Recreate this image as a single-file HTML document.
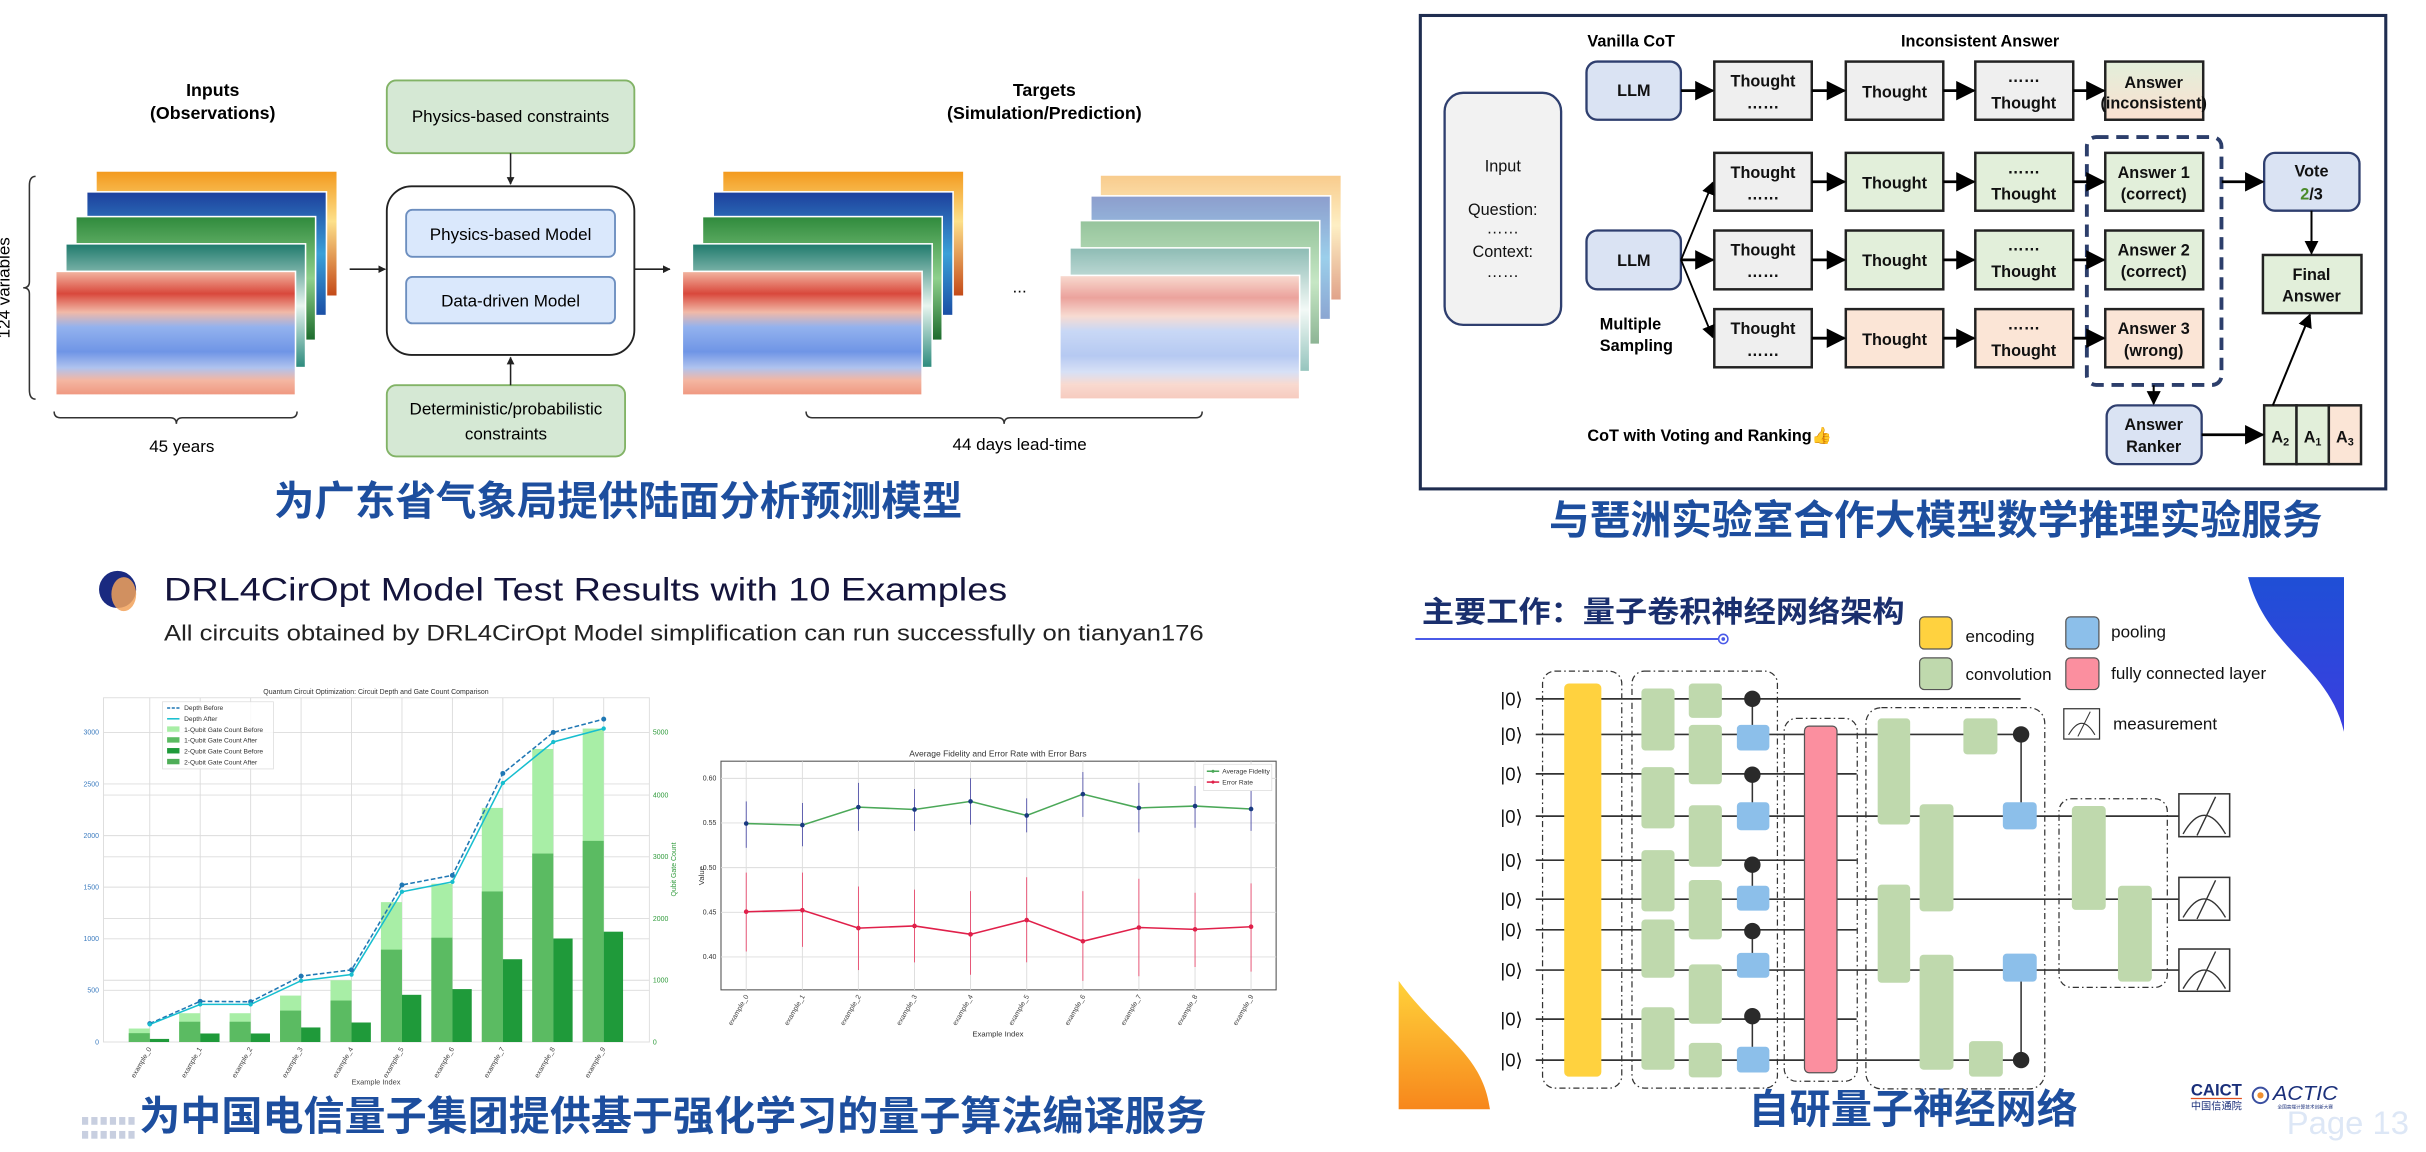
<!DOCTYPE html>
<html><head><meta charset="utf-8"><style>
html,body{margin:0;padding:0;background:#fff;}
svg{display:block;}
text{font-family:"Liberation Sans","Noto Sans CJK SC",sans-serif;}
.cn{font-family:"Liberation Sans","Noto Sans CJK SC",sans-serif;font-weight:bold;fill:#1d4e9e;}
.bx{font-size:10.5px;fill:#111;text-anchor:middle;}
</style></head><body>
<svg width="2426" height="1152" viewBox="0 0 1568 744.6" preserveAspectRatio="none" xmlns="http://www.w3.org/2000/svg">
<defs>
<marker id="ah" viewBox="0 0 10 10" refX="9" refY="5" markerWidth="7" markerHeight="7" orient="auto"><path d="M0,0L10,5L0,10Z" fill="#000"/></marker>
<marker id="as" viewBox="0 0 10 10" refX="9" refY="5" markerWidth="5" markerHeight="5" orient="auto"><path d="M0,0L10,5L0,10Z" fill="#222"/></marker>
<linearGradient id="gRed" x1="0" y1="0" x2="0" y2="1"><stop offset="0" stop-color="#f3b7a2"/><stop offset="0.18" stop-color="#d9483c"/><stop offset="0.33" stop-color="#f1b9a7"/><stop offset="0.45" stop-color="#93b2ee"/><stop offset="0.65" stop-color="#6f95e6"/><stop offset="0.78" stop-color="#b0c3ee"/><stop offset="0.88" stop-color="#f4b6a2"/><stop offset="1" stop-color="#ef977f"/></linearGradient>
<linearGradient id="gOr" x1="0" y1="0" x2="0" y2="1"><stop offset="0" stop-color="#f39a1e"/><stop offset="0.4" stop-color="#fde08a"/><stop offset="1" stop-color="#c44a18"/></linearGradient>
<linearGradient id="gBl" x1="0" y1="0" x2="0" y2="1"><stop offset="0" stop-color="#1d3f9c"/><stop offset="0.5" stop-color="#3aa0d8"/><stop offset="1" stop-color="#1a4ea5"/></linearGradient>
<linearGradient id="gGr" x1="0" y1="0" x2="0" y2="1"><stop offset="0" stop-color="#2f8a3c"/><stop offset="0.5" stop-color="#8fd08c"/><stop offset="1" stop-color="#1c6b2c"/></linearGradient>
<linearGradient id="gTe" x1="0" y1="0" x2="0" y2="1"><stop offset="0" stop-color="#1e7a6c"/><stop offset="0.5" stop-color="#e8f5ef"/><stop offset="1" stop-color="#2b8a7c"/></linearGradient>
<linearGradient id="gAns" x1="0" y1="0" x2="0" y2="1"><stop offset="0" stop-color="#e2efda"/><stop offset="1" stop-color="#fbe0d0"/></linearGradient>
<linearGradient id="gBlueDec" x1="0" y1="0" x2="0" y2="1"><stop offset="0" stop-color="#1f4fd6"/><stop offset="1" stop-color="#3b3ee0"/></linearGradient>
<linearGradient id="gOrDec" x1="0" y1="0" x2="0" y2="1"><stop offset="0" stop-color="#ffd23a"/><stop offset="1" stop-color="#f7871c"/></linearGradient>
<g id="stackIn">
<rect x="26.5" y="-64.4" width="155" height="80" fill="url(#gOr)"/>
<rect x="20" y="-51.4" width="155" height="80" fill="url(#gBl)" stroke="#fff" stroke-width="1"/>
<rect x="13" y="-35.4" width="155" height="80" fill="url(#gGr)" stroke="#fff" stroke-width="1"/>
<rect x="6.5" y="-17.8" width="155" height="80" fill="url(#gTe)" stroke="#fff" stroke-width="1"/>
<rect x="0" y="0" width="155" height="80" fill="url(#gRed)" stroke="#fff" stroke-width="1"/>
</g>
</defs>

<!-- ===== TOP LEFT ===== -->
<text x="137.5" y="62" font-size="11.5" font-weight="bold" text-anchor="middle">Inputs</text>
<text x="137.5" y="77" font-size="11.5" font-weight="bold" text-anchor="middle">(Observations)</text>
<text x="675" y="62" font-size="11.5" font-weight="bold" text-anchor="middle">Targets</text>
<text x="675" y="77" font-size="11.5" font-weight="bold" text-anchor="middle">(Simulation/Prediction)</text>
<path d="M23,114 Q19,114 19,120 L19,182 Q19,186 15,186 Q19,186 19,190 L19,252 Q19,258 23,258" fill="none" stroke="#333" stroke-width="1"/>
<text transform="translate(6,186) rotate(-90)" font-size="11" text-anchor="middle">124 variables</text>
<use href="#stackIn" x="36" y="175.4"/>
<use href="#stackIn" x="441" y="175.4"/>
<g opacity="0.5"><use href="#stackIn" x="685" y="178"/></g>
<text x="659" y="189" font-size="11" text-anchor="middle">...</text>
<rect x="250" y="52" width="160" height="47" rx="6" fill="#d5e8d4" stroke="#82b366" stroke-width="1.2"/>
<text x="330" y="79" font-size="11" text-anchor="middle">Physics-based constraints</text>
<rect x="250" y="120.4" width="160" height="109" rx="16" fill="#fff" stroke="#222" stroke-width="1.2"/>
<rect x="262.5" y="135.6" width="135" height="30.4" rx="4" fill="#dae8fc" stroke="#6c8ebf" stroke-width="1.2"/>
<text x="330" y="155" font-size="11" text-anchor="middle">Physics-based Model</text>
<rect x="262.5" y="179" width="135" height="30" rx="4" fill="#dae8fc" stroke="#6c8ebf" stroke-width="1.2"/>
<text x="330" y="198" font-size="11" text-anchor="middle">Data-driven Model</text>
<rect x="250" y="249" width="154" height="46" rx="6" fill="#d5e8d4" stroke="#82b366" stroke-width="1.2"/>
<text x="327" y="268" font-size="11" text-anchor="middle">Deterministic/probabilistic</text>
<text x="327" y="284" font-size="11" text-anchor="middle">constraints</text>
<line x1="330" y1="99" x2="330" y2="119" stroke="#222" stroke-width="1" marker-end="url(#as)"/>
<line x1="330" y1="249" x2="330" y2="231" stroke="#222" stroke-width="1" marker-end="url(#as)"/>
<line x1="226" y1="174" x2="249" y2="174" stroke="#222" stroke-width="1" marker-end="url(#as)"/>
<line x1="410" y1="174" x2="433" y2="174" stroke="#222" stroke-width="1" marker-end="url(#as)"/>
<path d="M35,266 Q35,270 39,270 L110,270 Q114,270 114,274 Q114,270 118,270 L188,270 Q192,270 192,266" fill="none" stroke="#333" stroke-width="1"/>
<text x="117.5" y="292" font-size="11" text-anchor="middle">45 years</text>
<path d="M521,266 Q521,270 525,270 L645,270 Q649,270 649,274 Q649,270 653,270 L773,270 Q777,270 777,266" fill="none" stroke="#333" stroke-width="1"/>
<text x="659" y="291" font-size="11" text-anchor="middle">44 days lead-time</text>
<text x="399.5" y="333" class="cn" font-size="26" text-anchor="middle" textLength="445" lengthAdjust="spacingAndGlyphs">为广东省气象局提供陆面分析预测模型</text>

<!-- ===== TOP RIGHT ===== -->
<rect x="918" y="10" width="624" height="306" fill="#fff" stroke="#1f2d50" stroke-width="2"/>
<text x="1026" y="30" font-size="10.5" font-weight="bold">Vanilla CoT</text>
<text x="1228.7" y="30" font-size="10.5" font-weight="bold">Inconsistent Answer</text>
<rect x="933.7" y="60" width="75.3" height="150" rx="12" fill="#f2f2f2" stroke="#2f3f6f" stroke-width="1.5"/>
<text x="971.3" y="111" class="bx">Input</text>
<text x="971.3" y="139" class="bx">Question:</text>
<text x="971.3" y="151" class="bx">……</text>
<text x="971.3" y="166" class="bx">Context:</text>
<text x="971.3" y="179" class="bx">……</text>
<g stroke="#2f3f6f" stroke-width="1.5" fill="#dae3f3">
<rect x="1025.4" y="39.8" width="61" height="37.6" rx="7"/>
<rect x="1025.4" y="149" width="61" height="38" rx="7"/>
<rect x="1463.4" y="98.8" width="61.6" height="37.4" rx="7"/>
<rect x="1361.6" y="262" width="61.4" height="38" rx="7"/>
</g>
<text x="1056" y="62" class="bx" font-weight="bold">LLM</text>
<text x="1056" y="172" class="bx" font-weight="bold">LLM</text>
<text x="1494" y="114" class="bx" font-weight="bold">Vote</text>
<text x="1494" y="129" class="bx" font-weight="bold"><tspan fill="#4a8a2a">2</tspan>/3</text>
<text x="1392" y="278" class="bx" font-weight="bold">Answer</text>
<text x="1392" y="292" class="bx" font-weight="bold">Ranker</text>
<g stroke="#222" stroke-width="1.6">
<rect x="1108" y="39.8" width="63" height="37.6" fill="#efefef"/>
<rect x="1193" y="39.8" width="63" height="37.6" fill="#efefef"/>
<rect x="1276.7" y="39.8" width="63.3" height="37.6" fill="#efefef"/>
<rect x="1360.7" y="39.8" width="63.3" height="37.6" fill="url(#gAns)"/>
<rect x="1108" y="98.8" width="63" height="37.4" fill="#efefef"/>
<rect x="1193" y="98.8" width="63" height="37.4" fill="#e2efda"/>
<rect x="1276.7" y="98.8" width="63.3" height="37.4" fill="#e2efda"/>
<rect x="1360.7" y="98.8" width="63.3" height="37.4" fill="#e2efda"/>
<rect x="1108" y="149" width="63" height="38" fill="#efefef"/>
<rect x="1193" y="149" width="63" height="38" fill="#e2efda"/>
<rect x="1276.7" y="149" width="63.3" height="38" fill="#e2efda"/>
<rect x="1360.7" y="149" width="63.3" height="38" fill="#e2efda"/>
<rect x="1108" y="199.8" width="63" height="37.6" fill="#efefef"/>
<rect x="1193" y="199.8" width="63" height="37.6" fill="#fbe5d6"/>
<rect x="1276.7" y="199.8" width="63.3" height="37.6" fill="#fbe5d6"/>
<rect x="1360.7" y="199.8" width="63.3" height="37.6" fill="#fbe5d6"/>
<rect x="1462.6" y="164.8" width="63.7" height="37.6" fill="#e2efda"/>
<rect x="1463.4" y="262" width="20.9" height="38" fill="#e2efda"/>
<rect x="1484.3" y="262" width="20.9" height="38" fill="#e2efda"/>
<rect x="1505.2" y="262" width="20.8" height="38" fill="#fbe5d6"/>
</g>
<g font-weight="bold">
<text x="1139.5" y="56" class="bx">Thought</text><text x="1139.5" y="70" class="bx">……</text>
<text x="1224.5" y="63" class="bx">Thought</text>
<text x="1308" y="53" class="bx">……</text><text x="1308" y="70" class="bx">Thought</text>
<text x="1392" y="57" class="bx">Answer</text><text x="1392" y="70" class="bx" font-size="9">(inconsistent)</text>
<text x="1139.5" y="115" class="bx">Thought</text><text x="1139.5" y="129" class="bx">……</text>
<text x="1224.5" y="122" class="bx">Thought</text>
<text x="1308" y="112" class="bx">……</text><text x="1308" y="129" class="bx">Thought</text>
<text x="1392" y="115" class="bx">Answer 1</text><text x="1392" y="129" class="bx">(correct)</text>
<text x="1139.5" y="165" class="bx">Thought</text><text x="1139.5" y="179" class="bx">……</text>
<text x="1224.5" y="172" class="bx">Thought</text>
<text x="1308" y="162" class="bx">……</text><text x="1308" y="179" class="bx">Thought</text>
<text x="1392" y="165" class="bx">Answer 2</text><text x="1392" y="179" class="bx">(correct)</text>
<text x="1139.5" y="216" class="bx">Thought</text><text x="1139.5" y="230" class="bx">……</text>
<text x="1224.5" y="223" class="bx">Thought</text>
<text x="1308" y="213" class="bx">……</text><text x="1308" y="230" class="bx">Thought</text>
<text x="1392" y="216" class="bx">Answer 3</text><text x="1392" y="230" class="bx">(wrong)</text>
<text x="1494" y="181" class="bx">Final</text><text x="1494" y="195" class="bx">Answer</text>
<text x="1473.8" y="286" class="bx">A<tspan font-size="7" dy="2">2</tspan></text>
<text x="1494.7" y="286" class="bx">A<tspan font-size="7" dy="2">1</tspan></text>
<text x="1515.6" y="286" class="bx">A<tspan font-size="7" dy="2">3</tspan></text>
<text x="1034" y="213" font-size="10.5">Multiple</text>
<text x="1034" y="227" font-size="10.5">Sampling</text>
<text x="1026" y="285" font-size="10.5">CoT with Voting and Ranking<tspan fill="#f0a020">👍</tspan></text>
</g>
<rect x="1348.8" y="88.6" width="87" height="160.2" rx="6" fill="none" stroke="#2c3e6b" stroke-width="2.5" stroke-dasharray="8,5"/>
<g stroke="#000" stroke-width="1.8" marker-end="url(#ah)">
<line x1="1086.5" y1="58.6" x2="1107" y2="58.6"/>
<line x1="1171" y1="58.6" x2="1192" y2="58.6"/>
<line x1="1256" y1="58.6" x2="1275.7" y2="58.6"/>
<line x1="1340" y1="58.6" x2="1359.7" y2="58.6"/>
<line x1="1086.5" y1="168" x2="1107" y2="118" stroke-width="1.2"/>
<line x1="1086.5" y1="168" x2="1107" y2="168"/>
<line x1="1086.5" y1="168" x2="1107" y2="218" stroke-width="1.2"/>
<line x1="1171" y1="117.5" x2="1192" y2="117.5"/>
<line x1="1256" y1="117.5" x2="1275.7" y2="117.5"/>
<line x1="1340" y1="117.5" x2="1359.7" y2="117.5"/>
<line x1="1171" y1="168" x2="1192" y2="168"/>
<line x1="1256" y1="168" x2="1275.7" y2="168"/>
<line x1="1340" y1="168" x2="1359.7" y2="168"/>
<line x1="1171" y1="218.6" x2="1192" y2="218.6"/>
<line x1="1256" y1="218.6" x2="1275.7" y2="218.6"/>
<line x1="1340" y1="218.6" x2="1359.7" y2="218.6"/>
<line x1="1436" y1="117.5" x2="1462.4" y2="117.5"/>
<line x1="1494" y1="136.2" x2="1494" y2="163.8" stroke-width="1.3"/>
<line x1="1469" y1="262" x2="1493" y2="203.4" stroke-width="1.3"/>
<line x1="1392" y1="249" x2="1392" y2="261" stroke-width="1.3"/>
<line x1="1423" y1="281" x2="1462.4" y2="281"/>
</g>
<text x="1251.2" y="345" class="cn" font-size="26" text-anchor="middle" textLength="500" lengthAdjust="spacingAndGlyphs">与琶洲实验室合作大模型数学推理实验服务</text>

<!-- ===== BOTTOM LEFT ===== -->
<circle cx="76" cy="381" r="12" fill="#1a2a80"/>
<ellipse cx="80" cy="384" rx="8" ry="11" fill="#f2a25a" opacity="0.85"/>
<text x="106" y="388" font-size="21" fill="#14143c" textLength="545" lengthAdjust="spacingAndGlyphs">DRL4CirOpt Model Test Results with 10 Examples</text>
<text x="106" y="414" font-size="14.5" fill="#222" textLength="672" lengthAdjust="spacingAndGlyphs">All circuits obtained by DRL4CirOpt Model simplification can run successfully on tianyan176</text>
<!-- chart 1 -->
<text x="243" y="448.5" font-size="4.5" text-anchor="middle" fill="#333">Quantum Circuit Optimization: Circuit Depth and Gate Count Comparison</text>
<rect x="66.9" y="451" width="352.8" height="222.5" fill="#fff" stroke="#ddd" stroke-width="0.6"/>
<g stroke="#dcdcdc" stroke-width="0.6">
<line x1="66.9" y1="640.1" x2="419.7" y2="640.1"/><line x1="66.9" y1="606.8" x2="419.7" y2="606.8"/><line x1="66.9" y1="573.4" x2="419.7" y2="573.4"/><line x1="66.9" y1="540.1" x2="419.7" y2="540.1"/><line x1="66.9" y1="506.7" x2="419.7" y2="506.7"/><line x1="66.9" y1="473.4" x2="419.7" y2="473.4"/>
<line x1="66.9" y1="633.6" x2="419.7" y2="633.6"/><line x1="66.9" y1="593.7" x2="419.7" y2="593.7"/><line x1="66.9" y1="553.8" x2="419.7" y2="553.8"/><line x1="66.9" y1="513.9" x2="419.7" y2="513.9"/>
<line x1="96.8" y1="451" x2="96.8" y2="673.5"/><line x1="129.4" y1="451" x2="129.4" y2="673.5"/><line x1="162" y1="451" x2="162" y2="673.5"/><line x1="194.6" y1="451" x2="194.6" y2="673.5"/><line x1="227.2" y1="451" x2="227.2" y2="673.5"/><line x1="259.8" y1="451" x2="259.8" y2="673.5"/><line x1="292.4" y1="451" x2="292.4" y2="673.5"/><line x1="325" y1="451" x2="325" y2="673.5"/><line x1="357.6" y1="451" x2="357.6" y2="673.5"/><line x1="390.2" y1="451" x2="390.2" y2="673.5"/>
</g>
<g fill="#a8eea6">
<rect x="83.2" y="664.8" width="13.6" height="8.7"/><rect x="115.8" y="654.9" width="13.6" height="18.6"/><rect x="148.4" y="654.9" width="13.6" height="18.6"/><rect x="181" y="643.5" width="13.6" height="30"/><rect x="213.6" y="633.6" width="13.6" height="39.9"/><rect x="246.2" y="583.1" width="13.6" height="90.4"/><rect x="278.8" y="571.2" width="13.6" height="102.3"/><rect x="311.4" y="522.2" width="13.6" height="151.3"/><rect x="344" y="484.1" width="13.6" height="189.4"/><rect x="376.6" y="470.9" width="13.6" height="202.6"/>
</g>
<g fill="#5bbb62">
<rect x="83.2" y="667.8" width="13.6" height="5.7"/><rect x="115.8" y="660.4" width="13.6" height="13.1"/><rect x="148.4" y="660.4" width="13.6" height="13.1"/><rect x="181" y="653.2" width="13.6" height="20.3"/><rect x="213.6" y="646.7" width="13.6" height="26.8"/><rect x="246.2" y="613.8" width="13.6" height="59.7"/><rect x="278.8" y="606.1" width="13.6" height="67.4"/><rect x="311.4" y="576.2" width="13.6" height="97.3"/><rect x="344" y="551.7" width="13.6" height="121.8"/><rect x="376.6" y="543.5" width="13.6" height="130"/>
</g>
<g fill="#1f9a3a">
<rect x="96.8" y="671.5" width="12.5" height="2"/><rect x="129.4" y="668" width="12.5" height="5.5"/><rect x="162" y="668" width="12.5" height="5.5"/><rect x="194.6" y="664.1" width="12.5" height="9.4"/><rect x="227.2" y="660.9" width="12.5" height="12.6"/><rect x="259.8" y="643" width="12.5" height="30.5"/><rect x="292.4" y="639.3" width="12.5" height="34.2"/><rect x="325" y="620" width="12.5" height="53.5"/><rect x="357.6" y="606.6" width="12.5" height="66.9"/><rect x="390.2" y="602.2" width="12.5" height="71.3"/>
</g>
<polyline points="96.8,661.6 129.4,647.2 162,647.5 194.6,630.9 227.2,626.9 259.8,572 292.4,565.8 325,499.9 357.6,473.4 390.2,464.8" fill="none" stroke="#1f77b4" stroke-width="1" stroke-dasharray="3,1.5"/>
<polyline points="96.8,662.1 129.4,649.2 162,649.2 194.6,633.9 227.2,629.9 259.8,576.4 292.4,570 325,506.1 357.6,479.6 390.2,470.9" fill="none" stroke="#17becf" stroke-width="1"/>
<g fill="#1f77b4"><circle cx="96.8" cy="661.6" r="1.6"/><circle cx="129.4" cy="647.2" r="1.6"/><circle cx="162" cy="647.5" r="1.6"/><circle cx="194.6" cy="630.9" r="1.6"/><circle cx="227.2" cy="626.9" r="1.6"/><circle cx="259.8" cy="572" r="1.6"/><circle cx="292.4" cy="565.8" r="1.6"/><circle cx="325" cy="499.9" r="1.6"/><circle cx="357.6" cy="473.4" r="1.6"/><circle cx="390.2" cy="464.8" r="1.6"/></g>
<g fill="#17becf"><circle cx="96.8" cy="662.1" r="1.4"/><circle cx="129.4" cy="649.2" r="1.4"/><circle cx="162" cy="649.2" r="1.4"/><circle cx="194.6" cy="633.9" r="1.4"/><circle cx="227.2" cy="629.9" r="1.4"/><circle cx="259.8" cy="576.4" r="1.4"/><circle cx="292.4" cy="570" r="1.4"/><circle cx="325" cy="506.1" r="1.4"/><circle cx="357.6" cy="479.6" r="1.4"/><circle cx="390.2" cy="470.9" r="1.4"/></g>
<rect x="105" y="453.6" width="71.7" height="43.4" fill="#fff" fill-opacity="0.85" stroke="#ddd" stroke-width="0.5"/>
<g font-size="4.3" fill="#333">
<line x1="108" y1="457.6" x2="116" y2="457.6" stroke="#1f77b4" stroke-dasharray="2,1"/><text x="119" y="459">Depth Before</text>
<line x1="108" y1="464.6" x2="116" y2="464.6" stroke="#17becf"/><text x="119" y="466">Depth After</text>
<rect x="108" y="469.5" width="8" height="3.5" fill="#a8eea6"/><text x="119" y="473">1-Qubit Gate Count Before</text>
<rect x="108" y="476.5" width="8" height="3.5" fill="#5bbb62"/><text x="119" y="480">1-Qubit Gate Count After</text>
<rect x="108" y="483.5" width="8" height="3.5" fill="#1f9a3a"/><text x="119" y="487">2-Qubit Gate Count Before</text>
<rect x="108" y="490.5" width="8" height="3.5" fill="#4fae58"/><text x="119" y="494">2-Qubit Gate Count After</text>
</g>
<g font-size="4.5" fill="#3b7bbf" text-anchor="end">
<text x="64" y="675">0</text><text x="64" y="641.6">500</text><text x="64" y="608.3">1000</text><text x="64" y="574.9">1500</text><text x="64" y="541.6">2000</text><text x="64" y="508.2">2500</text><text x="64" y="474.9">3000</text>
</g>
<g font-size="4.5" fill="#2e9a3a">
<text x="422" y="675">0</text><text x="422" y="635.1">1000</text><text x="422" y="595.2">2000</text><text x="422" y="555.3">3000</text><text x="422" y="515.4">4000</text><text x="422" y="474.9">5000</text>
<text transform="translate(437,562) rotate(-90)" text-anchor="middle">Qubit Gate Count</text>
</g>
<g font-size="4.5" fill="#444" text-anchor="end">
<text transform="translate(98,678) rotate(-60)">example_0</text><text transform="translate(130.6,678) rotate(-60)">example_1</text><text transform="translate(163.2,678) rotate(-60)">example_2</text><text transform="translate(195.8,678) rotate(-60)">example_3</text><text transform="translate(228.4,678) rotate(-60)">example_4</text><text transform="translate(261,678) rotate(-60)">example_5</text><text transform="translate(293.6,678) rotate(-60)">example_6</text><text transform="translate(326.2,678) rotate(-60)">example_7</text><text transform="translate(358.8,678) rotate(-60)">example_8</text><text transform="translate(391.4,678) rotate(-60)">example_9</text>
</g>
<text x="243" y="701" font-size="4.8" text-anchor="middle" fill="#444">Example Index</text>
<!-- chart 2 -->
<text x="645" y="489" font-size="5.5" text-anchor="middle" fill="#333">Average Fidelity and Error Rate with Error Bars</text>
<rect x="466" y="492" width="358.8" height="147.8" fill="#fff" stroke="#555" stroke-width="0.7"/>
<g stroke="#dcdcdc" stroke-width="0.6">
<line x1="466" y1="503.1" x2="824.8" y2="503.1"/><line x1="466" y1="531.9" x2="824.8" y2="531.9"/><line x1="466" y1="560.8" x2="824.8" y2="560.8"/><line x1="466" y1="589.7" x2="824.8" y2="589.7"/><line x1="466" y1="618.5" x2="824.8" y2="618.5"/>
<line x1="482.3" y1="492" x2="482.3" y2="639.8"/><line x1="518.6" y1="492" x2="518.6" y2="639.8"/><line x1="554.8" y1="492" x2="554.8" y2="639.8"/><line x1="591.1" y1="492" x2="591.1" y2="639.8"/><line x1="627.3" y1="492" x2="627.3" y2="639.8"/><line x1="663.6" y1="492" x2="663.6" y2="639.8"/><line x1="699.9" y1="492" x2="699.9" y2="639.8"/><line x1="736.1" y1="492" x2="736.1" y2="639.8"/><line x1="772.4" y1="492" x2="772.4" y2="639.8"/><line x1="808.6" y1="492" x2="808.6" y2="639.8"/>
</g>
<g font-size="4.5" fill="#333" text-anchor="end">
<text x="463" y="504.6">0.60</text><text x="463" y="533.4">0.55</text><text x="463" y="562.3">0.50</text><text x="463" y="591.2">0.45</text><text x="463" y="620">0.40</text>
</g>
<text transform="translate(455,566) rotate(-90)" font-size="5" text-anchor="middle" fill="#333">Value</text>
<g stroke="#e8305a" stroke-width="0.5">
<line x1="482.3" y1="564" x2="482.3" y2="615"/><line x1="518.6" y1="564" x2="518.6" y2="612"/><line x1="554.8" y1="573" x2="554.8" y2="627"/><line x1="591.1" y1="575" x2="591.1" y2="622"/><line x1="627.3" y1="576" x2="627.3" y2="630"/><line x1="663.6" y1="567" x2="663.6" y2="622"/><line x1="699.9" y1="576" x2="699.9" y2="634"/><line x1="736.1" y1="568" x2="736.1" y2="631"/><line x1="772.4" y1="577" x2="772.4" y2="625"/><line x1="808.6" y1="571" x2="808.6" y2="628"/>
</g>
<g stroke="#3a3aa0" stroke-width="0.5">
<line x1="482.3" y1="518" x2="482.3" y2="548"/><line x1="518.6" y1="519" x2="518.6" y2="547"/><line x1="554.8" y1="506" x2="554.8" y2="537"/><line x1="591.1" y1="510" x2="591.1" y2="537"/><line x1="627.3" y1="503" x2="627.3" y2="533"/><line x1="663.6" y1="516" x2="663.6" y2="538"/><line x1="699.9" y1="499" x2="699.9" y2="528"/><line x1="736.1" y1="506" x2="736.1" y2="538"/><line x1="772.4" y1="508" x2="772.4" y2="535"/><line x1="808.6" y1="509" x2="808.6" y2="537"/>
</g>
<polyline points="482.3,532.3 518.6,533.3 554.8,521.7 591.1,523.2 627.3,518 663.6,527.1 699.9,513.3 736.1,522.2 772.4,521 808.6,522.9" fill="none" stroke="#4ba858" stroke-width="1"/>
<polyline points="482.3,589.3 518.6,588.3 554.8,599.9 591.1,598.5 627.3,603.9 663.6,594.7 699.9,608.4 736.1,599.5 772.4,600.7 808.6,599" fill="none" stroke="#e0204a" stroke-width="1"/>
<g fill="#1a3a80"><circle cx="482.3" cy="532.3" r="1.5"/><circle cx="518.6" cy="533.3" r="1.5"/><circle cx="554.8" cy="521.7" r="1.5"/><circle cx="591.1" cy="523.2" r="1.5"/><circle cx="627.3" cy="518" r="1.5"/><circle cx="663.6" cy="527.1" r="1.5"/><circle cx="699.9" cy="513.3" r="1.5"/><circle cx="736.1" cy="522.2" r="1.5"/><circle cx="772.4" cy="521" r="1.5"/><circle cx="808.6" cy="522.9" r="1.5"/></g>
<g fill="#e0204a"><circle cx="482.3" cy="589.3" r="1.5"/><circle cx="518.6" cy="588.3" r="1.5"/><circle cx="554.8" cy="599.9" r="1.5"/><circle cx="591.1" cy="598.5" r="1.5"/><circle cx="627.3" cy="603.9" r="1.5"/><circle cx="663.6" cy="594.7" r="1.5"/><circle cx="699.9" cy="608.4" r="1.5"/><circle cx="736.1" cy="599.5" r="1.5"/><circle cx="772.4" cy="600.7" r="1.5"/><circle cx="808.6" cy="599" r="1.5"/></g>
<rect x="778" y="494" width="44" height="17" fill="#fff" stroke="#ddd" stroke-width="0.5"/>
<g font-size="4.3" fill="#333"><line x1="780" y1="498.5" x2="788" y2="498.5" stroke="#4ba858"/><circle cx="784" cy="498.5" r="1" fill="#4ba858"/><text x="790" y="500">Average Fidelity</text>
<line x1="780" y1="505.5" x2="788" y2="505.5" stroke="#e0204a"/><circle cx="784" cy="505.5" r="1" fill="#e0204a"/><text x="790" y="507">Error Rate</text></g>
<g font-size="4.5" fill="#444" text-anchor="end">
<text transform="translate(484,644) rotate(-60)">example_0</text><text transform="translate(520.3,644) rotate(-60)">example_1</text><text transform="translate(556.5,644) rotate(-60)">example_2</text><text transform="translate(592.8,644) rotate(-60)">example_3</text><text transform="translate(629,644) rotate(-60)">example_4</text><text transform="translate(665.3,644) rotate(-60)">example_5</text><text transform="translate(701.6,644) rotate(-60)">example_6</text><text transform="translate(737.8,644) rotate(-60)">example_7</text><text transform="translate(774.1,644) rotate(-60)">example_8</text><text transform="translate(810.3,644) rotate(-60)">example_9</text>
</g>
<text x="645" y="670" font-size="5" text-anchor="middle" fill="#333">Example Index</text>
<g fill="#c8cfe0">
<rect x="53" y="722" width="4" height="5"/><rect x="59" y="722" width="4" height="5"/><rect x="65" y="722" width="4" height="5"/><rect x="71" y="722" width="4" height="5"/><rect x="77" y="722" width="4" height="5"/><rect x="83" y="722" width="4" height="5"/>
<rect x="53" y="731" width="4" height="5"/><rect x="59" y="731" width="4" height="5"/><rect x="65" y="731" width="4" height="5"/><rect x="71" y="731" width="4" height="5"/><rect x="77" y="731" width="4" height="5"/><rect x="83" y="731" width="4" height="5"/>
</g>
<text x="435" y="730.5" class="cn" font-size="26" text-anchor="middle" textLength="690" lengthAdjust="spacingAndGlyphs">为中国电信量子集团提供基于强化学习的量子算法编译服务</text>

<!-- ===== BOTTOM RIGHT ===== -->
<path d="M1453,373 L1515,373 L1515,473 C1505,430 1465,420 1453,373 Z" fill="url(#gBlueDec)"/>
<path d="M904,634 C930,670 958,680 963,717 L904,717 Z" fill="url(#gOrDec)"/>
<text x="919" y="402" class="cn" font-size="19" fill="#1a2f6e" style="fill:#1a2f6e" textLength="312" lengthAdjust="spacingAndGlyphs">主要工作：量子卷积神经网络架构</text>
<line x1="914.8" y1="413" x2="1111" y2="413" stroke="#4a5ae8" stroke-width="1.3"/>
<circle cx="1113.8" cy="413" r="3" fill="#fff" stroke="#4a5ae8" stroke-width="1"/><circle cx="1113.8" cy="413" r="1.2" fill="#4a5ae8"/>
<g stroke="#555" stroke-width="0.8">
<rect x="1240.7" y="398.7" width="21" height="20.8" rx="3" fill="#ffd23f"/>
<rect x="1335.2" y="398.7" width="21.4" height="20.8" rx="3" fill="#8cbfea"/>
<rect x="1240.7" y="425.2" width="21" height="20.5" rx="3" fill="#bfd9ad"/>
<rect x="1335.2" y="425.2" width="21.4" height="20.5" rx="3" fill="#fb8f9f"/>
<rect x="1333.9" y="458.1" width="23.1" height="19.6" fill="#fff" stroke="#333"/>
</g>
<path d="M1337,475 Q1345.5,460 1354,475 M1343,476 L1351,460" fill="none" stroke="#333" stroke-width="0.7"/>
<g font-size="11" fill="#111">
<text x="1270.4" y="415">encoding</text><text x="1364.5" y="412">pooling</text>
<text x="1270.4" y="439.5">convolution</text><text x="1364.5" y="439">fully connected layer</text>
<text x="1365.8" y="471.5">measurement</text>
</g>
<!-- wires -->
<g stroke="#333" stroke-width="1.1">
<line x1="992.6" y1="451.7" x2="1306" y2="451.7"/>
<line x1="992.6" y1="474.7" x2="1306" y2="474.7"/>
<line x1="992.6" y1="500.2" x2="1200" y2="500.2"/>
<line x1="992.6" y1="527.5" x2="1441" y2="527.5"/>
<line x1="992.6" y1="556" x2="1200" y2="556"/>
<line x1="992.6" y1="581.2" x2="1441" y2="581.2"/>
<line x1="992.6" y1="601" x2="1200" y2="601"/>
<line x1="992.6" y1="627" x2="1441" y2="627"/>
<line x1="992.6" y1="658.7" x2="1200" y2="658.7"/>
<line x1="992.6" y1="685.2" x2="1306" y2="685.2"/>
</g>
<g font-size="12" fill="#111" text-anchor="middle" font-family="Liberation Serif">
<text x="977" y="456">|0⟩</text><text x="977" y="479">|0⟩</text><text x="977" y="504.5">|0⟩</text><text x="977" y="531.8">|0⟩</text><text x="977" y="560.3">|0⟩</text><text x="977" y="585.5">|0⟩</text><text x="977" y="605.3">|0⟩</text><text x="977" y="631.3">|0⟩</text><text x="977" y="663">|0⟩</text><text x="977" y="689.5">|0⟩</text>
</g>
<g fill="none" stroke="#333" stroke-width="0.8" stroke-dasharray="4,2,1,2">
<rect x="997" y="433.8" width="51.2" height="269.5" rx="8"/>
<rect x="1054.8" y="433.8" width="94" height="269.5" rx="8"/>
<rect x="1153.2" y="464.3" width="47.2" height="234.6" rx="8"/>
<rect x="1206" y="457.4" width="115.6" height="246.4" rx="10"/>
<rect x="1330.8" y="516.3" width="70" height="121.9" rx="8"/>
</g>
<rect x="1011" y="441.8" width="24" height="254.1" rx="3" fill="#ffd23f"/>
<rect x="1166.3" y="469.3" width="21" height="224.1" rx="3" fill="#fb8f9f" stroke="#555" stroke-width="0.8"/>
<g fill="#bfd9ad">
<rect x="1060.9" y="445" width="21.4" height="40.1" rx="2.5"/><rect x="1060.9" y="495.8" width="21.4" height="39.6" rx="2.5"/><rect x="1060.9" y="549.5" width="21.4" height="39.6" rx="2.5"/><rect x="1060.9" y="594.3" width="21.4" height="37.7" rx="2.5"/><rect x="1060.9" y="651" width="21.4" height="40.4" rx="2.5"/>
<rect x="1091.5" y="441.8" width="21.4" height="22.2" rx="2.5"/><rect x="1091.5" y="468.5" width="21.4" height="38.4" rx="2.5"/><rect x="1091.5" y="520.5" width="21.4" height="39.7" rx="2.5"/><rect x="1091.5" y="568.8" width="21.4" height="38.4" rx="2.5"/><rect x="1091.5" y="623.3" width="21.4" height="38.4" rx="2.5"/><rect x="1091.5" y="674.1" width="21.4" height="22.3" rx="2.5"/>
<rect x="1213.6" y="464.3" width="21" height="68.6" rx="2.5"/><rect x="1213.6" y="571.8" width="21" height="63.4" rx="2.5"/>
<rect x="1240.7" y="519.8" width="21.9" height="69.3" rx="2.5"/><rect x="1240.7" y="617.1" width="21.9" height="74.3" rx="2.5"/>
<rect x="1269" y="464.3" width="22" height="23.3" rx="2.5"/><rect x="1272.6" y="672.9" width="21.9" height="23" rx="2.5"/>
<rect x="1339.1" y="521" width="21.9" height="67.1" rx="2.5"/><rect x="1368.9" y="572.5" width="21.9" height="62" rx="2.5"/>
</g>
<g stroke="#333" stroke-width="1">
<line x1="1132.6" y1="451.7" x2="1132.6" y2="470"/><line x1="1132.6" y1="500.7" x2="1132.6" y2="520"/><line x1="1132.6" y1="558.9" x2="1132.6" y2="574"/><line x1="1132.6" y1="601.8" x2="1132.6" y2="617"/><line x1="1132.6" y1="656.8" x2="1132.6" y2="678"/>
<line x1="1306.3" y1="474.7" x2="1306.3" y2="519"/><line x1="1306.3" y1="634" x2="1306.3" y2="685.2"/>
</g>
<g fill="#8cbfea">
<rect x="1122.6" y="468.5" width="21" height="16.6" rx="2.5"/><rect x="1122.6" y="518.5" width="21" height="18.1" rx="2.5"/><rect x="1122.6" y="572.5" width="21" height="16.1" rx="2.5"/><rect x="1122.6" y="615.9" width="21" height="16.1" rx="2.5"/><rect x="1122.6" y="676.6" width="21" height="16.6" rx="2.5"/>
<rect x="1294.5" y="518.5" width="21.9" height="17.6" rx="2.5"/><rect x="1294.5" y="616.4" width="21.9" height="18.1" rx="2.5"/>
</g>
<g fill="#2a2a2a">
<circle cx="1132.6" cy="451.7" r="5.3"/><circle cx="1132.6" cy="500.7" r="5.3"/><circle cx="1132.6" cy="558.9" r="5.3"/><circle cx="1132.6" cy="601.8" r="5.3"/><circle cx="1132.6" cy="656.8" r="5.3"/>
<circle cx="1306.3" cy="474.7" r="5.3"/><circle cx="1306.3" cy="685.2" r="5.3"/>
</g>
<g fill="#fff" stroke="#333" stroke-width="1">
<rect x="1408.3" y="513.1" width="32.8" height="27.7"/><rect x="1408.3" y="567.1" width="32.8" height="27.7"/><rect x="1408.3" y="613.4" width="32.8" height="27.3"/>
</g>
<g fill="none" stroke="#333" stroke-width="0.9">
<path d="M1411,539 Q1424.7,515 1438.4,539 M1420,540 L1432,515"/>
<path d="M1411,593 Q1424.7,569 1438.4,593 M1420,594 L1432,569"/>
<path d="M1411,639 Q1424.7,615 1438.4,639 M1420,640 L1432,615"/>
</g>
<text x="1236.5" y="726" class="cn" font-size="26" text-anchor="middle" textLength="213" lengthAdjust="spacingAndGlyphs">自研量子神经网络</text>
<text x="1432.5" y="708" font-size="11" font-weight="bold" fill="#1a2f7a" text-anchor="middle" textLength="33" lengthAdjust="spacingAndGlyphs">CAICT</text>
<line x1="1416" y1="710" x2="1449" y2="710" stroke="#e05020" stroke-width="0.8"/>
<text x="1432.5" y="717" font-size="6.5" fill="#1a2f7a" text-anchor="middle" textLength="33" lengthAdjust="spacingAndGlyphs">中国信通院</text>
<circle cx="1461" cy="708" r="5" fill="none" stroke="#3a4fa0" stroke-width="1.3"/><circle cx="1461" cy="708" r="2" fill="#f09030"/>
<text x="1469" y="711" font-size="13" font-style="italic" fill="#1a2f7a" textLength="42" lengthAdjust="spacingAndGlyphs">ACTIC</text>
<text x="1490" y="716.5" font-size="3" fill="#1a2f7a" text-anchor="middle">全国高端计算技术创新大赛</text>
<text x="1478" y="733" font-size="21" fill="#dde7f6" textLength="79" lengthAdjust="spacingAndGlyphs">Page 13</text>
</svg>
</body></html>
